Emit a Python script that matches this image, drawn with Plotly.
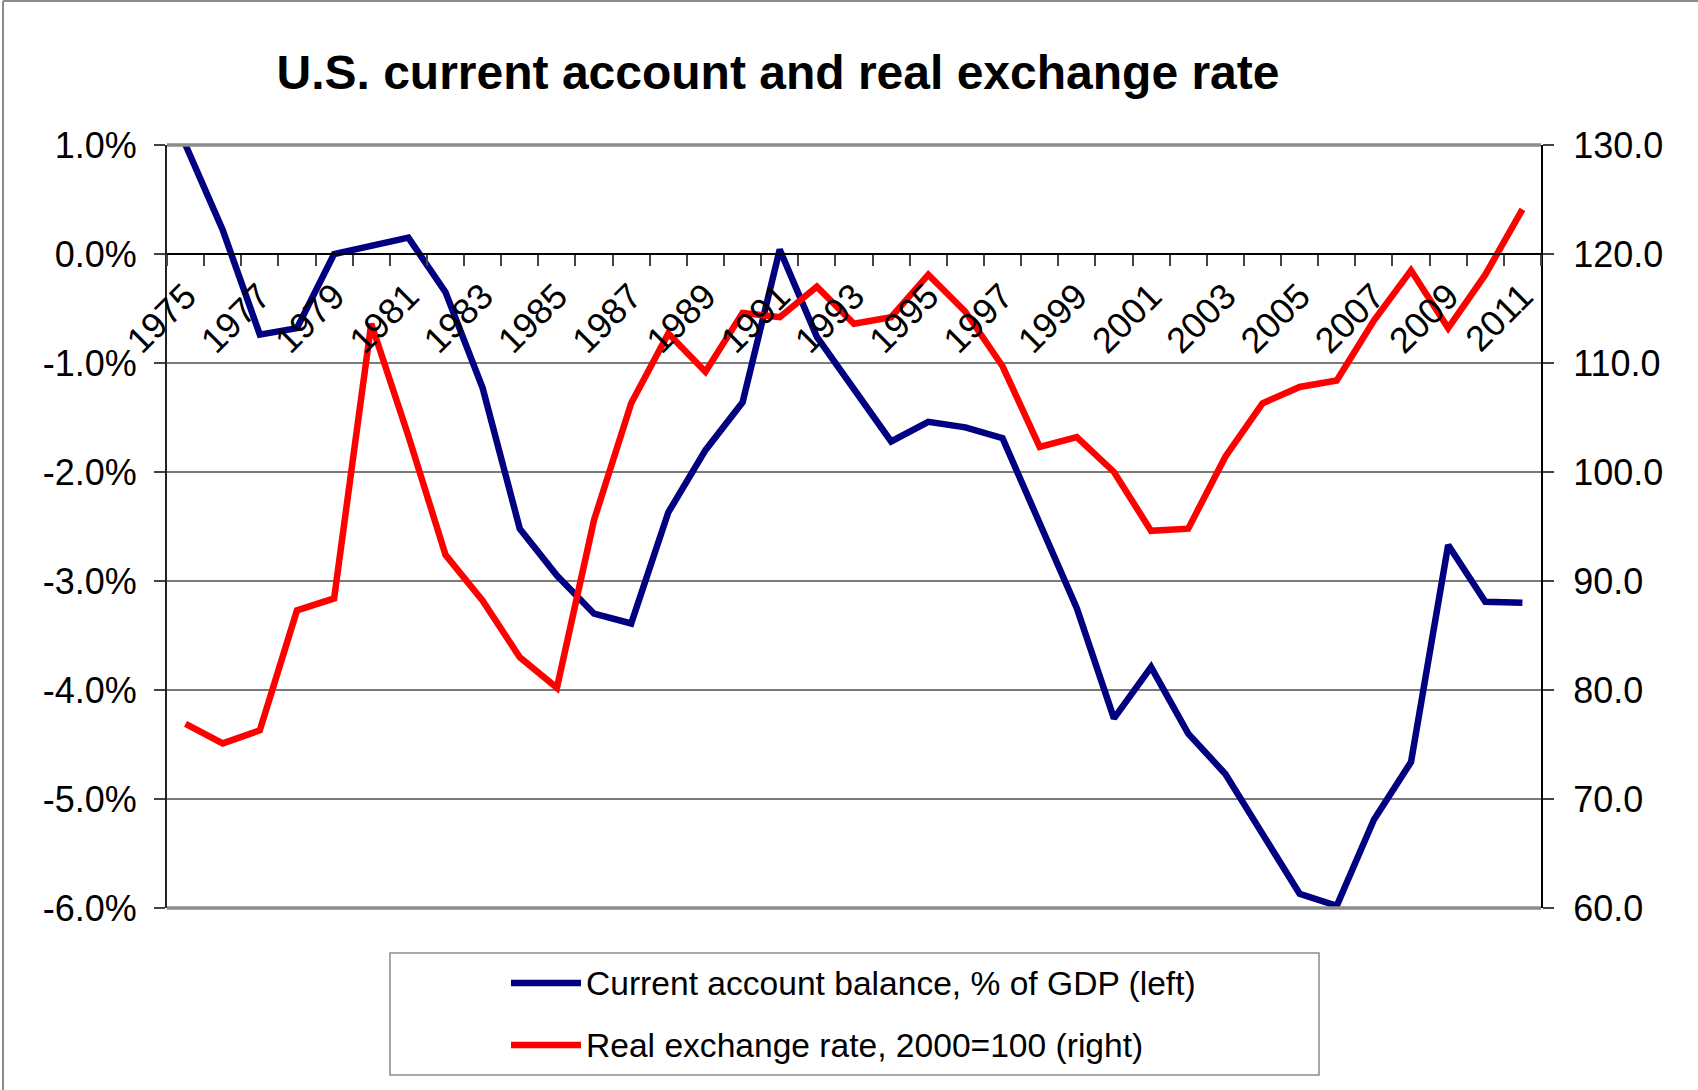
import plotly.graph_objects as go

# ---- data ----------------------------------------------------------------
years = list(range(1975, 2012))

# Current account balance, % of GDP (left axis)
current_account = [
    1.00, 0.22, -0.74, -0.68, 0.00, 0.07, 0.15, -0.35, -1.23, -2.52,
    -2.95, -3.30, -3.39, -2.37, -1.80, -1.36, 0.04, -0.76, -1.25, -1.72,
    -1.54, -1.59, -1.69, -2.47, -3.25, -4.26, -3.79, -4.40, -4.77, -5.32,
    -5.87, -5.98, -5.19, -4.66, -2.67, -3.19, -3.20,
]

# Real exchange rate, 2000 = 100 (right axis)
real_exchange_rate = [
    76.9, 75.1, 76.3, 87.3, 88.4, 113.6, 103.3, 92.4, 88.2, 83.0,
    80.2, 95.6, 106.3, 112.7, 109.2, 114.6, 114.2, 117.0, 113.6, 114.2,
    118.1, 114.7, 109.7, 102.3, 103.2, 100.0, 94.6, 94.8, 101.4, 106.3,
    107.8, 108.4, 113.9, 118.5, 113.2, 118.1, 124.1,
]

label_years = years[::2]
left_ticks = [1, 0, -1, -2, -3, -4, -5, -6]
left_tick_text = ["1.0%", "0.0%", "-1.0%", "-2.0%", "-3.0%", "-4.0%", "-5.0%", "-6.0%"]
right_ticks = [130, 120, 110, 100, 90, 80, 70, 60]
right_tick_text = ["130.0", "120.0", "110.0", "100.0", "90.0", "80.0", "70.0", "60.0"]

series_names = [
    "Current account balance, % of GDP (left)",
    "Real exchange rate, 2000=100 (right)",
]
series_colors = ["#000080", "#FF0000"]
title_text = "U.S. current account and real exchange rate"

# ---- geometry ------------------------------------------------------------
W, H = 1698, 1090
ML, MR, MT, MB = 167, 1698 - 1541, 145, 1090 - 908
PW, PH = W - ML - MR, H - MT - MB
FONT = "Liberation Sans, Arial, sans-serif"


def px_x(px):
    return (px - ML) / PW


def px_y(py):
    return (H - MB - py) / PH


fig = go.Figure()
fig.add_trace(go.Scatter(
    x=years, y=current_account, name=series_names[0], mode="lines",
    line=dict(color=series_colors[0], width=6.5), xaxis="x", yaxis="y",
    showlegend=False,
))
fig.add_trace(go.Scatter(
    x=years, y=real_exchange_rate, name=series_names[1], mode="lines",
    line=dict(color=series_colors[1], width=6.5), xaxis="x", yaxis="y2",
    showlegend=False,
))

tick_font = dict(family=FONT, size=36, color="black")

fig.update_layout(
    width=W, height=H,
    margin=dict(l=ML, r=MR, t=MT, b=MB, pad=0),
    paper_bgcolor="white", plot_bgcolor="white",
    title=dict(
        text=title_text, x=778 / W, xanchor="center", xref="container",
        y=1 - 72 / H, yanchor="middle", yref="container",
        font=dict(family=FONT, size=48, color="black", weight="bold"),
    ),
    xaxis=dict(
        range=[1974.5, 2011.5], anchor="free", position=6 / 7,
        tickmode="array", tickvals=label_years,
        ticktext=[str(y) for y in label_years],
        tickangle=-45, ticks="", tickfont=tick_font, ticklabelstandoff=6,
        showline=True, linecolor="black", linewidth=1.5,
        showgrid=False, zeroline=False,
        minor=dict(tickmode="linear", tick0=1974.5, dtick=1, ticks="outside",
                   ticklen=11, tickcolor="#444", tickwidth=1.5, showgrid=False),
    ),
    yaxis=dict(
        range=[-6, 1], tickmode="array", tickvals=left_ticks,
        ticktext=left_tick_text, ticks="outside", ticklen=11,
        tickcolor="#444", tickwidth=1.5, tickfont=tick_font,
        ticklabelstandoff=10,
        showline=True, linecolor="#222", linewidth=2,
        showgrid=True, gridcolor="#7a7a7a", gridwidth=1.5,
        zeroline=False,
    ),
    yaxis2=dict(
        range=[60, 130], overlaying="y", side="right", anchor="x",
        tickmode="array", tickvals=right_ticks, ticktext=right_tick_text,
        ticks="outside", ticklen=11, tickcolor="#444", tickwidth=1.5,
        tickfont=tick_font, ticklabelstandoff=12,
        showline=True, linecolor="black", linewidth=2,
        showgrid=False, zeroline=False,
    ),
    yaxis3=dict(
        range=[60, 130], overlaying="y", side="right", anchor="x",
        tickmode="array", tickvals=right_ticks, ticks="inside", ticklen=11,
        tickcolor="#444", tickwidth=1.5, showticklabels=False,
        showline=False, showgrid=False, zeroline=False,
    ),
)

# plot area top and bottom borders
for yb in (0, 1):
    fig.add_shape(type="line", xref="paper", yref="paper",
                  x0=0, x1=1, y0=yb, y1=yb,
                  line=dict(color="#8c8c8c", width=3.5), layer="above")

# chart frame (left and top edges of the outer border)
fig.add_shape(type="line", xref="paper", yref="paper",
              x0=px_x(3), x1=px_x(3), y0=px_y(H), y1=px_y(1),
              line=dict(color="#8c8c8c", width=2))
fig.add_shape(type="line", xref="paper", yref="paper",
              x0=px_x(3), x1=px_x(W), y0=px_y(1), y1=px_y(1),
              line=dict(color="#8c8c8c", width=2))

# legend box
fig.add_shape(type="rect", xref="paper", yref="paper",
              x0=px_x(390), x1=px_x(1319), y0=px_y(1075), y1=px_y(953),
              line=dict(color="#8c8c8c", width=1.5), fillcolor="white")
for name, color, py in zip(series_names, series_colors, [983, 1045]):
    fig.add_shape(type="line", xref="paper", yref="paper",
                  x0=px_x(511), x1=px_x(581), y0=px_y(py), y1=px_y(py),
                  line=dict(color=color, width=6.5))
    fig.add_annotation(text=name, xref="paper", yref="paper",
                       x=px_x(584), y=px_y(py), xanchor="left", yanchor="middle",
                       showarrow=False,
                       font=dict(family=FONT, size=33.6, color="black"))

fig.write_html("out.html")
